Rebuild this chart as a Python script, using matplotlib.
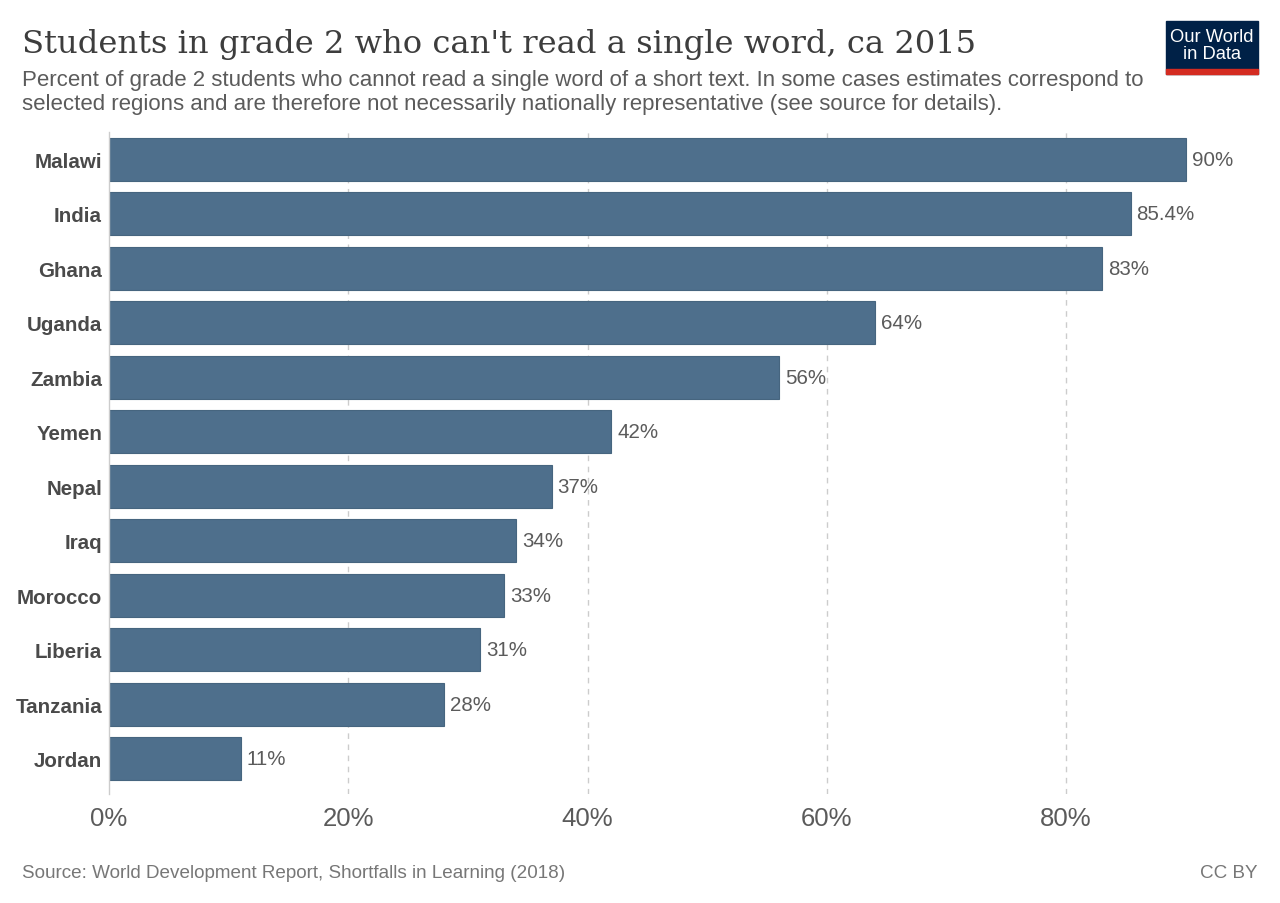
import matplotlib.pyplot as plt
from matplotlib.patches import Rectangle

countries = ['Malawi', 'India', 'Ghana', 'Uganda', 'Zambia', 'Yemen', 'Nepal',
             'Iraq', 'Morocco', 'Liberia', 'Tanzania', 'Jordan']
share = [90, 85.4, 83, 64, 56, 42, 37, 34, 33, 31, 28, 11]
value_labels = ['90%', '85.4%', '83%', '64%', '56%', '42%', '37%',
                '34%', '33%', '31%', '28%', '11%']
xticks = [0, 20, 40, 60, 80]

BAR = '#4e6f8c'
GRAY = '#5b5b5b'

fig = plt.figure(figsize=(12.8, 9.04), dpi=100)
W, H = 1280, 904

# axes: x 0% at 109px, 80% at 1066px
px_per = (1066 - 109) / 80
left, right = 109, 109 + 95 * px_per
top, bottom = 133, 795
ax = fig.add_axes([left / W, 1 - bottom / H, (right - left) / W, (bottom - top) / H])

ypos = list(range(len(countries)))
ax.barh(ypos, share, height=0.79, color=BAR, edgecolor='#46657f', linewidth=0.8, zorder=2)
ax.set_xlim(0, 95)
ax.set_ylim(11.65, -0.5)

for y, v, lab in zip(ypos, share, value_labels):
    ax.text(v + 0.5, y, lab, va='center', ha='left', fontsize=14.8,
            color=GRAY, family='Liberation Sans')

ax.set_yticks(ypos)
ax.set_yticklabels(countries, fontsize=14.8, fontweight='bold', color='#4a4a4a',
                   family='Liberation Sans')
ax.set_xticks(xticks)
ax.set_xticklabels([f'{t}%' for t in xticks], fontsize=18.5, color=GRAY,
                   family='Liberation Sans')
ax.tick_params(axis='y', length=0, pad=5)
ax.tick_params(axis='x', length=0, pad=9)

for t in xticks[1:]:
    ax.axvline(t, color='#cccccc', linestyle=(0, (4, 4)), linewidth=1, zorder=1)

for s in ['top', 'right', 'bottom']:
    ax.spines[s].set_visible(False)
ax.spines['left'].set_color('#cccccc')
ax.spines['left'].set_linewidth(1)

fig.text(22 / W, 1 - 53 / H, "Students in grade 2 who can't read a single word, ca 2015",
         fontsize=23.1, family='DejaVu Serif', color='#3d3d3d', va='baseline')
fig.text(22 / W, 1 - 110 / H,
         'Percent of grade 2 students who cannot read a single word of a short text. '
         'In some cases estimates correspond to\n'
         'selected regions and are therefore not necessarily nationally representative '
         '(see source for details).',
         fontsize=16, family='Liberation Sans', color=GRAY, va='baseline',
         linespacing=1.18)
fig.text(22 / W, 1 - 878 / H,
         'Source: World Development Report, Shortfalls in Learning (2018)',
         fontsize=13.6, family='Liberation Sans', color='#777777', va='baseline')
fig.text(1258 / W, 1 - 878 / H, 'CC BY', fontsize=13.6, family='Liberation Sans',
         color='#777777', va='baseline', ha='right')

# logo
lx0, ly0, lx1, ly1, red = 1166, 22, 1258, 75, 5
fig.patches.append(Rectangle((lx0 / W, 1 - ly1 / H), (lx1 - lx0) / W, (ly1 - ly0) / H,
                             transform=fig.transFigure, color='#002147', zorder=5))
fig.patches.append(Rectangle((lx0 / W, 1 - ly1 / H), (lx1 - lx0) / W, red / H,
                             transform=fig.transFigure, color='#d42b21', zorder=6))
fig.text((lx0 + lx1) / 2 / W, 1 - 46 / H, 'Our World\nin Data', ha='center', va='center',
         fontsize=13.2, color='white', family='Liberation Sans', linespacing=0.95, zorder=7)

fig.savefig('out.png', dpi=100, facecolor='white')
